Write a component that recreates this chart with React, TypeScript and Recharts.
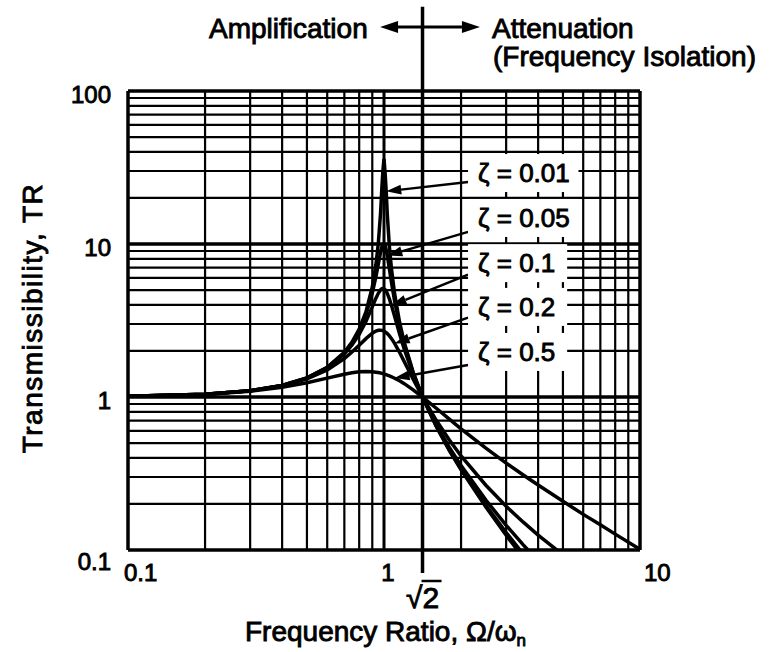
import { Line, LineChart, ReferenceDot, ReferenceLine, XAxis, YAxis } from "recharts";

// frequency ratio Ω/ωn and transmissibility, one array per damping ratio
const ratio = [
  0.1, 0.2, 0.3, 0.4, 0.5, 0.6, 0.7, 0.75, 0.8, 0.85, 0.9, 0.93, 0.95, 0.97, 0.98, 0.99, 1.0, 1.01, 1.02, 1.03,
  1.05, 1.07, 1.1, 1.15, 1.2, 1.3, 1.414, 1.6, 1.8, 2, 2.5, 3, 3.5, 4, 5, 6, 7, 8, 10,
];
const tr001 = [
  1.01, 1.042, 1.099, 1.19, 1.333, 1.562, 1.96, 2.285, 2.775, 3.598, 5.241, 7.334, 10.07, 16.1, 22.6, 30, 36, 29,
  22.1, 15.6, 9.56, 6.83, 4.737, 3.093, 2.269, 1.449, 1.0, 0.641, 0.447, 0.334, 0.191, 0.125, 0.089, 0.067, 0.042,
  0.029, 0.021, 0.016, 0.01,
];
const tr005 = [
  1.01, 1.042, 1.099, 1.19, 1.332, 1.558, 1.947, 2.259, 2.72, 3.458, 4.776, 6.123, 7.379, 8.845, 9.506, 9.951, 10.05,
  9.76, 9.162, 8.401, 6.853, 5.583, 4.244, 2.94, 2.208, 1.436, 1.0, 0.646, 0.452, 0.339, 0.196, 0.13, 0.094, 0.072,
  0.047, 0.033, 0.025, 0.02, 0.014,
];
const tr01 = [
  1.01, 1.042, 1.098, 1.189, 1.328, 1.547, 1.909, 2.186, 2.571, 3.117, 3.882, 4.424, 4.766, 5.023, 5.096, 5.123, 5.099,
  5.026, 4.908, 4.753, 4.373, 3.957, 3.367, 2.59, 2.052, 1.401, 1.0, 0.659, 0.468, 0.356, 0.212, 0.145, 0.108, 0.085,
  0.059, 0.045, 0.036, 0.03, 0.023,
];
const tr02 = [
  1.01, 1.041, 1.097, 1.184, 1.314, 1.505, 1.785, 1.968, 2.18, 2.407, 2.611, 2.696, 2.727, 2.733, 2.726, 2.713, 2.693,
  2.666, 2.634, 2.597, 2.509, 2.407, 2.241, 1.959, 1.703, 1.305, 1.0, 0.704, 0.524, 0.412, 0.265, 0.193, 0.152, 0.125,
  0.093, 0.074, 0.062, 0.053, 0.042,
];
const tr05 = [
  1.01, 1.04, 1.09, 1.158, 1.24, 1.329, 1.409, 1.44, 1.46, 1.468, 1.463, 1.453, 1.444, 1.434, 1.428, 1.421, 1.414,
  1.407, 1.399, 1.391, 1.374, 1.356, 1.327, 1.276, 1.222, 1.114, 1.0, 0.844, 0.717, 0.62, 0.463, 0.37, 0.309, 0.266,
  0.208, 0.171, 0.146, 0.127, 0.101,
];

const seriesKeys = ["z001", "z005", "z01", "z02", "z05"];
const seriesValues = [tr001, tr005, tr01, tr02, tr05];
const zetaLabels = ["ζ = 0.01", "ζ = 0.05", "ζ = 0.1", "ζ = 0.2", "ζ = 0.5"];

// label boxes sit right of the peaks, arrows run from them to their curve
const labelX = 2.13;
const labelY = [29.1, 14.8, 7.5, 3.88, 1.97];
const arrowTailY = [25.4, 12.0, 6.3, 3.3, 1.62];
const arrowHeadX = [1.02, 1.03, 1.07, 1.1, 1.1];
const arrowHeadY = [22.1, 8.4, 3.96, 2.24, 1.33];

const xTicks = [0.1, 1, 1.414, 10];
const yTicks = [0.1, 1, 10, 100];
const xMinor = [0.2, 0.3, 0.4, 0.5, 0.6, 0.7, 0.8, 0.9, 2, 3, 4, 5, 6, 7, 8, 9];
const yMinor = [
  0.2, 0.3, 0.4, 0.5, 0.6, 0.7, 0.8, 0.9, 2, 3, 4, 5, 6, 7, 8, 9, 20, 30, 40, 50, 60, 70, 80, 90,
];
const xMajor = [1];
const yMajor = [1, 10];
const xFrame = [0.1, 10];
const yFrame = [0.1, 100];

const FONT = '"Liberation Sans", Arial, Helvetica, sans-serif';

const data = ratio.map((r, i) => {
  const row: Record<string, number> = { ratio: r };
  seriesKeys.forEach((key, s) => {
    row[key] = seriesValues[s][i];
  });
  return row;
});

const textStyle = { fontFamily: FONT, fill: "#000", stroke: "#000", strokeWidth: 0.9 };

function XTick({ x, y, payload }: any) {
  const v = payload.value;
  if (v === 1.414) {
    return (
      <g>
        <text x={x} y={y + 58} textAnchor="middle" fontSize={30} style={textStyle}>
          √2
        </text>
        <line x1={x - 1} x2={x + 19} y1={y + 31} y2={y + 31} stroke="#000" strokeWidth={2.5} />
      </g>
    );
  }
  const anchor = v === 1 ? "middle" : "start";
  const dx = v === 0.1 ? -4 : 4;
  return (
    <text x={x + dx} y={y + 31} textAnchor={anchor} fontSize={24} style={textStyle}>
      {String(v)}
    </text>
  );
}

function YTick({ x, y, payload }: any) {
  const v = payload.value;
  return (
    <text x={x - 17} y={y + (v === 0.1 ? 20 : 12)} textAnchor="end" fontSize={24} style={textStyle}>
      {String(v)}
    </text>
  );
}

function ArrowShape(props: any) {
  const { x1, y1, x2, y2 } = props;
  const ang = Math.atan2(y2 - y1, x2 - x1);
  const len = 15;
  const half = 5;
  const bx = x2 - len * Math.cos(ang);
  const by = y2 - len * Math.sin(ang);
  const px = -Math.sin(ang) * half;
  const py = Math.cos(ang) * half;
  return (
    <g>
      <line x1={x1} y1={y1} x2={bx} y2={by} stroke="#000" strokeWidth={2.5} />
      <polygon points={`${x2},${y2} ${bx + px},${by + py} ${bx - px},${by - py}`} fill="#000" />
    </g>
  );
}

function DoubleArrowShape(props: any) {
  const { x1, y1, x2, y2 } = props;
  const len = 18;
  const half = 6;
  return (
    <g>
      <line x1={x1 + len} y1={y1} x2={x2 - len} y2={y2} stroke="#000" strokeWidth={3} />
      <polygon points={`${x1},${y1} ${x1 + len},${y1 - half} ${x1 + len},${y1 + half}`} fill="#000" />
      <polygon points={`${x2},${y2} ${x2 - len},${y2 - half} ${x2 - len},${y2 + half}`} fill="#000" />
    </g>
  );
}

function makeLabelShape(label: string) {
  return function LabelShape({ cx, cy }: any) {
    const w = 20 + label.length * 11.3;
    return (
      <g>
        <rect x={cx} y={cy - 19} width={w} height={38} fill="#fff" />
        <text x={cx + 10} y={cy + 9} fontSize={26} style={textStyle}>
          {label}
        </text>
      </g>
    );
  };
}

export default function App() {
  return (
    <div style={{ position: "absolute", left: 0, top: 0, width: 776, height: 652, background: "#fff" }}>
      <LineChart width={776} height={652} data={data} margin={{ top: 91, right: 136, bottom: 62, left: 68 }}>
        <XAxis
          dataKey="ratio"
          type="number"
          scale="log"
          domain={[0.1, 10]}
          allowDataOverflow
          ticks={xTicks}
          interval={0}
          height={40}
          axisLine={false}
          tickLine={false}
          tickSize={0}
          tickMargin={0}
          tick={XTick}
        />
        <YAxis
          type="number"
          scale="log"
          domain={[0.1, 100]}
          allowDataOverflow
          ticks={yTicks}
          interval={0}
          width={60}
          axisLine={false}
          tickLine={false}
          tickSize={0}
          tickMargin={0}
          tick={YTick}
        />
        {xMinor.map((v) => (
          <ReferenceLine key={`vx${v}`} x={v} stroke="#000" strokeWidth={2.2} />
        ))}
        {yMinor.map((v) => (
          <ReferenceLine key={`hy${v}`} y={v} stroke="#000" strokeWidth={2.2} />
        ))}
        {xMajor.map((v) => (
          <ReferenceLine key={`VX${v}`} x={v} stroke="#000" strokeWidth={3} />
        ))}
        {yMajor.map((v) => (
          <ReferenceLine key={`HY${v}`} y={v} stroke="#000" strokeWidth={3.5} />
        ))}
        {xFrame.map((v) => (
          <ReferenceLine key={`FX${v}`} x={v} stroke="#000" strokeWidth={3.5} />
        ))}
        {yFrame.map((v) => (
          <ReferenceLine key={`FY${v}`} y={v} stroke="#000" strokeWidth={3.5} />
        ))}
        <ReferenceLine
          segment={[
            { x: 1.414, y: 0.0707 },
            { x: 1.414, y: 355 },
          ]}
          ifOverflow="visible"
          stroke="#000"
          strokeWidth={3.5}
        />
        <ReferenceLine
          segment={[
            { x: 0.965, y: 262 },
            { x: 2.37, y: 262 },
          ]}
          ifOverflow="visible"
          shape={DoubleArrowShape}
        />
        {seriesKeys.map((key) => (
          <Line
            key={key}
            type="linear"
            dataKey={key}
            stroke="#000"
            strokeWidth={3.5}
            dot={false}
            activeDot={false}
            isAnimationActive={false}
          />
        ))}
        {zetaLabels.map((label, i) => (
          <ReferenceDot
            key={label}
            x={labelX}
            y={labelY[i]}
            ifOverflow="visible"
            shape={makeLabelShape(label)}
          />
        ))}
        {zetaLabels.map((label, i) => (
          <ReferenceLine
            key={`arrow-${label}`}
            segment={[
              { x: labelX, y: arrowTailY[i] },
              { x: arrowHeadX[i], y: arrowHeadY[i] },
            ]}
            ifOverflow="visible"
            shape={ArrowShape}
          />
        ))}
      </LineChart>
      <svg width={776} height={652} style={{ position: "absolute", left: 0, top: 0, pointerEvents: "none" }}>
        <text x={209} y={38} fontSize={28} style={textStyle}>
          Amplification
        </text>
        <text x={492} y={38} fontSize={28} style={textStyle}>
          Attenuation
        </text>
        <text x={493} y={66} fontSize={28} style={textStyle}>
          (Frequency Isolation)
        </text>
        <text
          x={42}
          y={318}
          fontSize={28}
          textAnchor="middle"
          letterSpacing={1.5}
          transform="rotate(-90 42 318)"
          style={textStyle}
        >
          Transmissibility, TR
        </text>
        <text x={245} y={641} fontSize={28} style={textStyle}>
          Frequency Ratio,{"  "}Ω/ω
          <tspan fontSize={17} dy={5}>
            n
          </tspan>
        </text>
      </svg>
    </div>
  );
}
